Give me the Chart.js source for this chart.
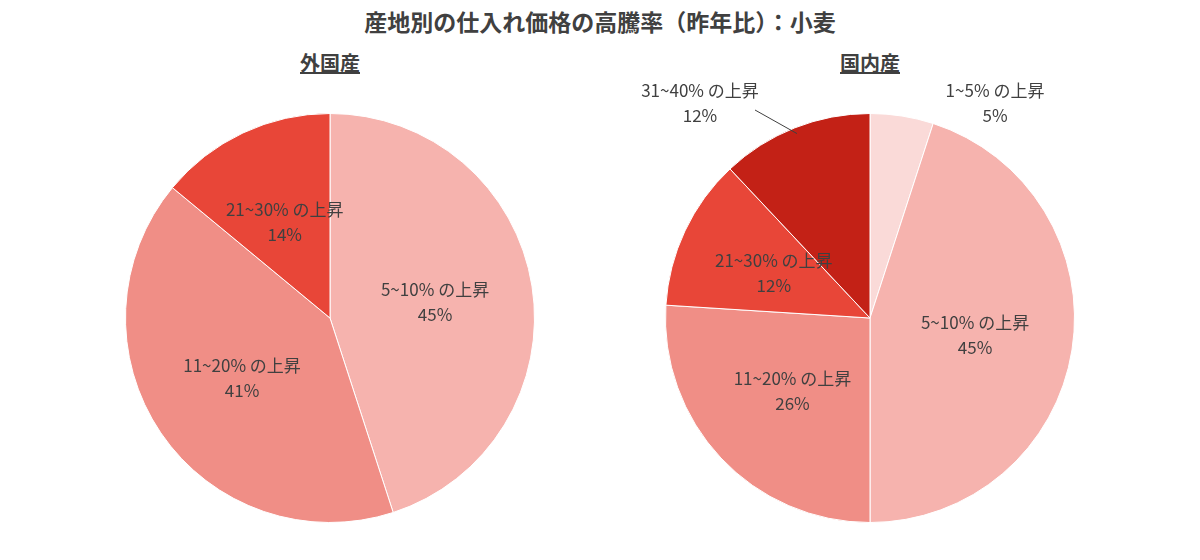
<!DOCTYPE html>
<html><head><meta charset="utf-8">
<script src="https://cdn.jsdelivr.net/npm/chart.js@4"></script>
<style>
body{margin:0;width:1200px;height:560px;background:#fff;font-family:"Noto Sans CJK JP","Noto Sans",sans-serif;color:#404040;position:relative;overflow:hidden}
.t{position:absolute;top:4px;left:0;width:1200px;text-align:center;font-size:23px;font-weight:bold}
.s{position:absolute;top:48px;font-size:20px;font-weight:bold;text-decoration:underline;width:200px;text-align:center}
.c{position:absolute;top:68px;width:540px;height:500px}
</style></head><body>
<div class="t">産地別の仕入れ価格の高騰率（昨年比）：小麦</div>
<div class="s" style="left:230px">外国産</div>
<div class="s" style="left:770px">国内産</div>
<div class="c" style="left:60px"><canvas id="a"></canvas></div>
<div class="c" style="left:600px"><canvas id="b"></canvas></div>
<script>
const foreignLabels=["5~10% の上昇","11~20% の上昇","21~30% の上昇"];
const foreignValues=[45,41,14];
const foreignColors=["#F6B3AE","#F08E86","#E84638"];
const domesticLabels=["1~5% の上昇","5~10% の上昇","11~20% の上昇","21~30% の上昇","31~40% の上昇"];
const domesticValues=[5,45,26,12,12];
const domesticColors=["#FADAD8","#F6B3AE","#F08E86","#E84638","#C32116"];
const outside={b:{0:[125,-215],4:[-170,-215]}};
function labelPlugin(id){return{id:'lbl'+id,afterDatasetsDraw(ch){
 const ctx=ch.ctx,meta=ch.getDatasetMeta(0),ds=ch.data.datasets[0];
 ctx.save();ctx.fillStyle='#404040';ctx.font='17px "Noto Sans CJK JP","Noto Sans",sans-serif';ctx.textAlign='center';ctx.textBaseline='middle';
 meta.data.forEach((arc,i)=>{
  const m=(arc.startAngle+arc.endAngle)/2;let x,y;
  const o=outside[id]&&outside[id][i];
  if(o){x=arc.x+o[0];y=arc.y+o[1];
   if(i===4){ctx.strokeStyle='#404040';ctx.lineWidth=1;ctx.beginPath();ctx.moveTo(x+55,y+7);ctx.lineTo(arc.x+Math.cos(m)*arc.outerRadius*0.97,arc.y+Math.sin(m)*arc.outerRadius*0.97);ctx.stroke();}
  }else{const r=arc.outerRadius*0.52;x=arc.x+Math.cos(m)*r;y=arc.y+Math.sin(m)*r;}
  ctx.fillText(ch.data.labels[i],x,y-12);ctx.fillText(ds.data[i]+'%',x,y+13);
 });ctx.restore();}}}
function mk(id,labels,vals,cols){new Chart(document.getElementById(id),{type:'pie',
 data:{labels:labels,datasets:[{data:vals,backgroundColor:cols,borderColor:'#fff',borderWidth:1}]},
 options:{responsive:true,maintainAspectRatio:false,animation:false,layout:{padding:{top:45,bottom:45}},
  plugins:{legend:{display:false},tooltip:{enabled:false}}},plugins:[labelPlugin(id)]});}
mk('a',foreignLabels,foreignValues,foreignColors);
mk('b',domesticLabels,domesticValues,domesticColors);
</script></body></html>
